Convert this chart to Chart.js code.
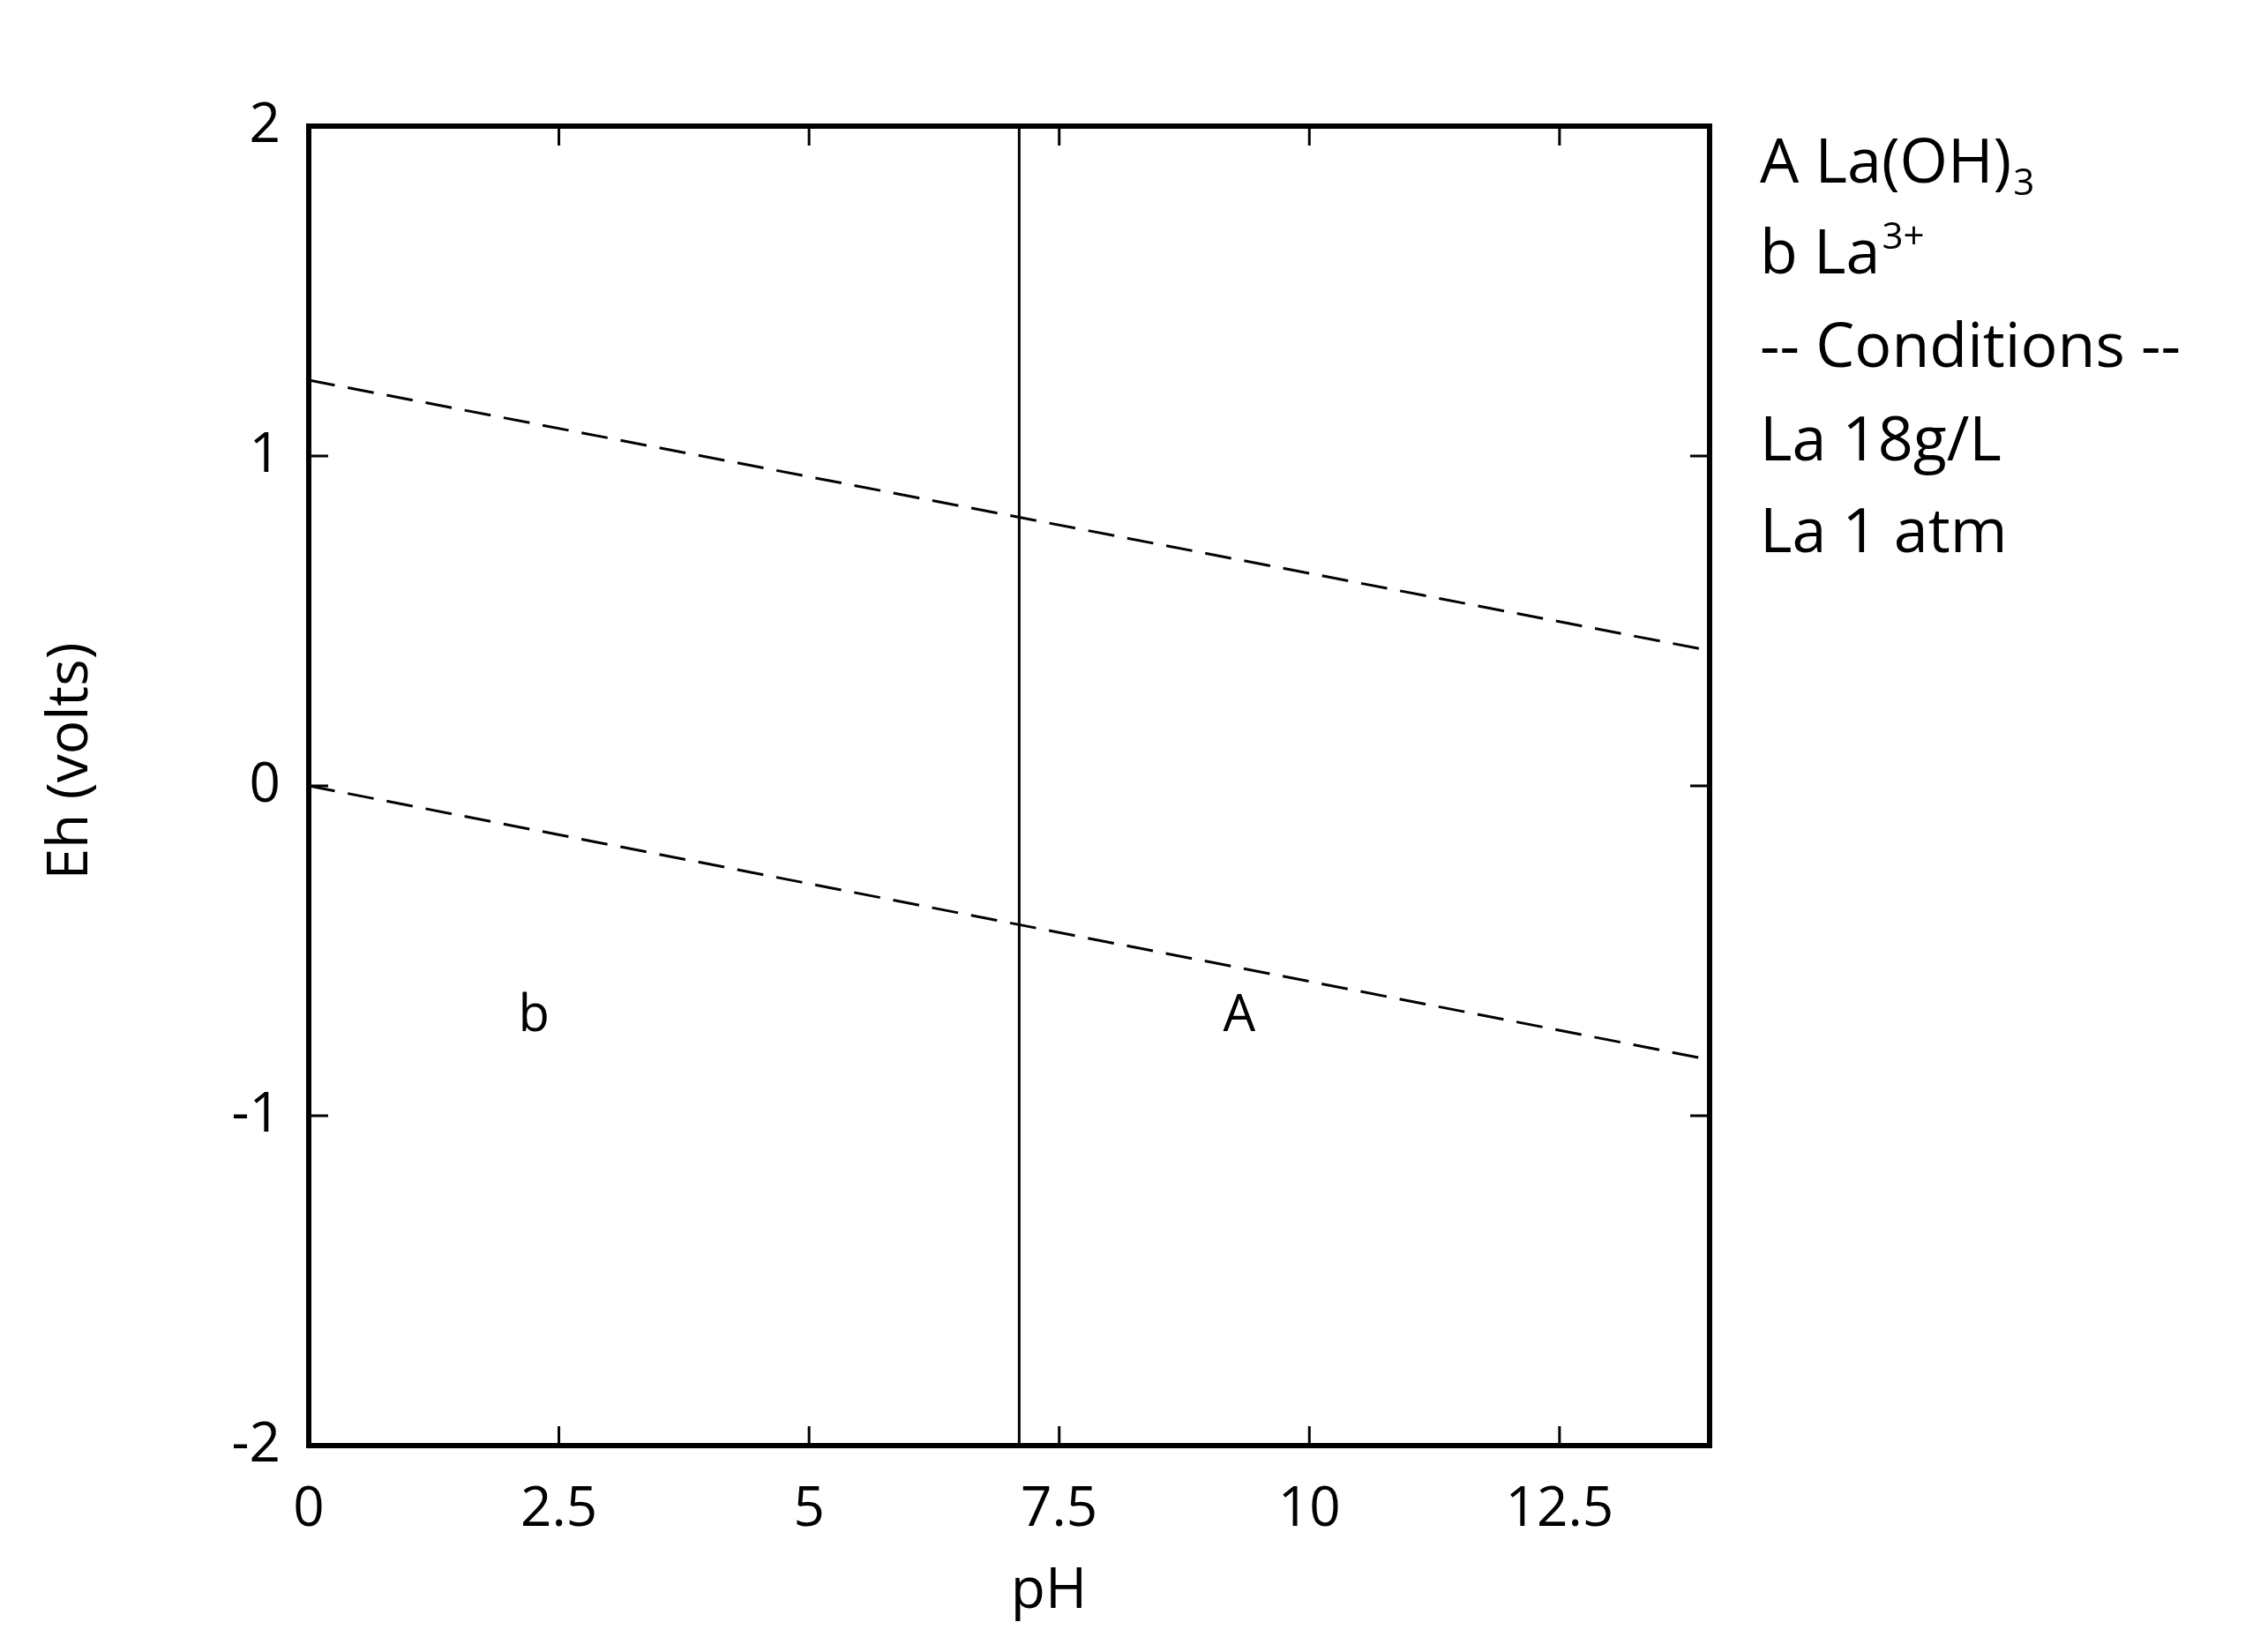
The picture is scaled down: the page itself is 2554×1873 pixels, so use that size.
<!DOCTYPE html>
<html><head><meta charset="utf-8">
<script src="https://cdn.jsdelivr.net/npm/chart.js@4/dist/chart.umd.min.js"></script>
<style>html,body{margin:0;padding:0;background:#fff}</style>
</head><body>
<canvas id="c" width="2554" height="1873"></canvas>
<script>
const xTicks = [0, 2.5, 5, 7.5, 10, 12.5];
const yTicks = [-2, -1, 0, 1, 2];
const boundaryPH = [7.1, 7.1];
const boundaryEh = [-2, 2];
const o2PH = [0, 14];
const o2Eh = [1.23, 0.41];
const h2PH = [0, 14];
const h2Eh = [0, -0.83];
const regionLabels = [{t:'b', x:2.25, y:-0.7}, {t:'A', x:9.3, y:-0.7}];
const legendLines = [['A La(OH)', '3', 'sub'], ['b La', '3+', 'sup'], ['-- Conditions --'], ['La 18g/L'], ['La 1 atm']];
const FONT = '"Open Sans", "Liberation Sans", sans-serif';
const pts = (xs, ys) => xs.map((x, i) => ({x, y: ys[i]}));

const deco = {
  id: 'deco',
  afterDraw(chart) {
    const {ctx, chartArea: a, scales: {x, y}} = chart;
    ctx.save();
    ctx.strokeStyle = '#000'; ctx.lineWidth = 3;
    const tl = 22;
    xTicks.forEach(v => { const p = x.getPixelForValue(v);
      ctx.beginPath(); ctx.moveTo(p, a.bottom); ctx.lineTo(p, a.bottom - tl);
      ctx.moveTo(p, a.top); ctx.lineTo(p, a.top + tl); ctx.stroke(); });
    yTicks.forEach(v => { const p = y.getPixelForValue(v);
      ctx.beginPath(); ctx.moveTo(a.left, p); ctx.lineTo(a.left + tl, p);
      ctx.moveTo(a.right, p); ctx.lineTo(a.right - tl, p); ctx.stroke(); });
    ctx.lineWidth = 6;
    ctx.strokeRect(a.left, a.top, a.right - a.left, a.bottom - a.top);
    ctx.fillStyle = '#000';
    ctx.font = '62px ' + FONT;
    ctx.textAlign = 'center'; ctx.textBaseline = 'middle';
    xTicks.forEach(v => ctx.fillText(String(v), x.getPixelForValue(v), 1712));
    ctx.textAlign = 'right';
    yTicks.forEach(v => ctx.fillText(String(v), 318, y.getPixelForValue(v)));
    ctx.textAlign = 'center';
    ctx.font = '64px ' + FONT;
    ctx.fillText('pH', 1189, 1805);
    ctx.save(); ctx.translate(81, 863); ctx.rotate(-Math.PI / 2);
    ctx.fillText('Eh (volts)', 0, 0); ctx.restore();
    ctx.font = '58px ' + FONT;
    regionLabels.forEach(l => ctx.fillText(l.t, x.getPixelForValue(l.x), y.getPixelForValue(l.y)));
    ctx.textAlign = 'left';
    const ys = [187, 290, 396, 502, 606];
    legendLines.forEach((l, i) => {
      ctx.font = '70px ' + FONT;
      ctx.fillText(l[0], 1995, ys[i]);
      if (l[1]) {
        const w = ctx.measureText(l[0]).width;
        ctx.font = '42px ' + FONT;
        ctx.fillText(l[1], 1995 + w + 2, ys[i] + (l[2] === 'sub' ? 22 : -20));
      }
    });
    ctx.restore();
  }
};

new Chart(document.getElementById('c'), {
  type: 'scatter',
  data: { datasets: [
    { data: pts(boundaryPH, boundaryEh), showLine: true, borderColor: '#000', borderWidth: 3, pointRadius: 0 },
    { data: pts(o2PH, o2Eh), showLine: true, borderColor: '#000', borderWidth: 3, borderDash: [30, 15], pointRadius: 0 },
    { data: pts(h2PH, h2Eh), showLine: true, borderColor: '#000', borderWidth: 3, borderDash: [30, 15], pointRadius: 0 }
  ]},
  options: {
    responsive: false, animation: false, devicePixelRatio: 1,
    layout: { padding: { left: 0, top: 143, right: 616, bottom: 0 } },
    plugins: { legend: { display: false }, tooltip: { enabled: false } },
    scales: {
      x: { type: 'linear', min: 0, max: 14, grid: { display: false }, border: { display: false },
           ticks: { display: false }, afterFit(s) { s.height = 234; } },
      y: { type: 'linear', min: -2, max: 2, grid: { display: false }, border: { display: false },
           ticks: { display: false }, afterFit(s) { s.width = 350; } }
    }
  },
  plugins: [deco]
});
</script>
</body></html>
